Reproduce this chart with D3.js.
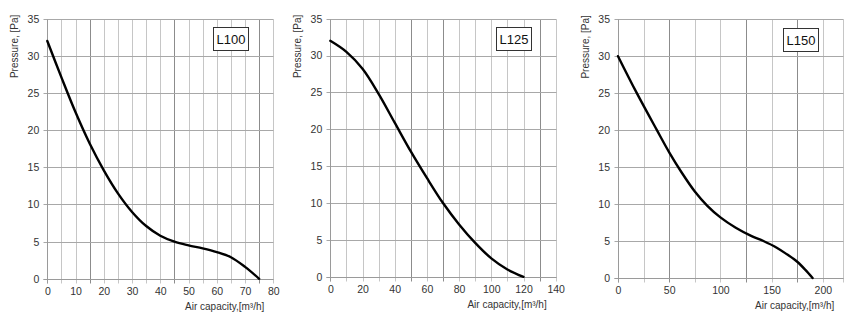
<!DOCTYPE html>
<html><head><meta charset="utf-8">
<script src="https://cdn.jsdelivr.net/npm/d3@7"></script>
<style>
html,body{margin:0;padding:0;background:#fff;}
svg{display:block;font-family:"Liberation Sans",Arial,sans-serif;}
</style></head>
<body>
<svg id="c" width="857" height="331"></svg>
<script>
// ---- data ----
const l100X = [0,5,10,15,20,25,30,35,40,45,50,55,60,65,70,75];
const l100Y = [32,27.1,22.4,18.2,14.6,11.5,9.0,7.1,5.8,5.0,4.5,4.1,3.6,2.9,1.6,0];
const l125X = [0,10,20,30,40,50,60,70,80,90,100,110,120];
const l125Y = [32,30.5,28.2,24.8,20.9,17.0,13.4,10.0,7.1,4.6,2.5,1.0,0];
const l150X = [0,18,38,50,62,75,87,100,115,130,142,155,165,175,183,190];
const l150Y = [30,25.1,20,17.0,14.3,11.7,9.8,8.2,6.8,5.7,5.0,4.1,3.2,2.2,1.1,0];

const yTicks = [0,5,10,15,20,25,30,35];
const l100XTicks = [0,10,20,30,40,50,60,70,80];
const l125XTicks = [0,20,40,60,80,100,120,140];
const l150XTicks = [0,50,100,150,200];
const l100Grid = d3.range(0,81,5);
const l125Grid = d3.range(0,141,10);
const l150Grid = [0,25,50,75,100,125,150,175,200,220];
const l100Dark = [15,45,75];
const l125Dark = [50,70,130];
const l150Dark = [50,125,175];

const labels = ["L100","L125","L150"];
const yTitle = "Pressure, [Pa]";
const xTitle = "Air capacity,[m³/h]";

const panels = [
  {name:labels[0], xs:l100X, ys:l100Y, xmax:80, ticks:l100XTicks, grid:l100Grid, dark:l100Dark, x0:47.3, x1:273.3, y0:18.7, y1:278.8},
  {name:labels[1], xs:l125X, ys:l125Y, xmax:140, ticks:l125XTicks, grid:l125Grid, dark:l125Dark, x0:330.3, x1:555.7, y0:18.7, y1:276.8},
  {name:labels[2], xs:l150X, ys:l150Y, xmax:220, ticks:l150XTicks, grid:l150Grid, dark:l150Dark, x0:618, x1:843.3, y0:19.2, y1:278.0}
];

const svg = d3.select("#c");
const px = v => Math.round(v) + 0.5;

panels.forEach(p => {
  const x = d3.scaleLinear().domain([0,p.xmax]).range([p.x0,p.x1]);
  const y = d3.scaleLinear().domain([0,35]).range([p.y1,p.y0]);
  const g = svg.append("g");
  const yb = px(y(0)), yt = px(y(35)), xl = px(x(0)), xr = px(x(p.xmax));

  // vertical grid
  g.selectAll(".vg").data(p.grid).join("line")
    .attr("x1", d=>px(x(d))).attr("x2", d=>px(x(d)))
    .attr("y1", yt).attr("y2", yb + 4)
    .attr("stroke", d => p.dark.includes(d) ? "#8c8c8c" : "#c6c6c6")
    .attr("stroke-width", 1);
  // horizontal grid
  g.selectAll(".hg").data(yTicks).join("line")
    .attr("x1", xl-4).attr("x2", xr)
    .attr("y1", d=>px(y(d))).attr("y2", d=>px(y(d)))
    .attr("stroke", "#a8a8a8")
    .attr("stroke-width", 1);
  // axis lines
  g.append("line").attr("x1",xl).attr("x2",xl).attr("y1",yt).attr("y2",yb+4)
    .attr("stroke","#9a9a9a").attr("stroke-width",1);
  g.append("line").attr("x1",xl-4).attr("x2",xr).attr("y1",yb).attr("y2",yb)
    .attr("stroke","#9a9a9a").attr("stroke-width",1);

  // tick labels via axes
  const ax = d3.axisBottom(x).tickValues(p.ticks).tickSize(0).tickPadding(9).tickFormat(d3.format("d"));
  const axg = g.append("g").attr("transform",`translate(0,${p.y1})`).call(ax);
  axg.select(".domain").remove();
  axg.selectAll("text").attr("font-size","10.5px").attr("fill","#333").attr("font-family","'Liberation Sans',Arial,sans-serif");

  const ay = d3.axisLeft(y).tickValues(yTicks).tickSize(0).tickPadding(8).tickFormat(d3.format("d"));
  const ayg = g.append("g").attr("transform",`translate(${p.x0},0)`).call(ay);
  ayg.select(".domain").remove();
  ayg.selectAll("text").attr("font-size","10.5px").attr("fill","#333").attr("font-family","'Liberation Sans',Arial,sans-serif");

  // titles
  g.append("text").attr("transform",`translate(${p.x0-29},${p.y0-4}) rotate(-90)`)
    .attr("text-anchor","end").attr("font-size","10px").attr("fill","#333").text(yTitle);
  g.append("text").attr("x",p.x1-9).attr("y",p.y1+31)
    .attr("text-anchor","end").attr("font-size","10px").attr("fill","#333").text(xTitle);

  // curve
  const pts = p.xs.map((v,i)=>[v,p.ys[i]]);
  const line = d3.line().x(d=>x(d[0])).y(d=>y(d[1])).curve(d3.curveCatmullRom.alpha(0.5));
  g.append("path").attr("d", line(pts)).attr("fill","none").attr("stroke","#000")
    .attr("stroke-width",2.4).attr("stroke-linejoin","round").attr("stroke-linecap","round");

  // legend box
  const bw = 35, bh = 23;
  const bx = Math.round(p.x1 - 25 - bw) + 0.5, by = Math.round(p.y0 + 8.5) + 0.5;
  g.append("rect").attr("x",bx).attr("y",by).attr("width",bw).attr("height",bh)
    .attr("fill","#fff").attr("stroke","#333").attr("stroke-width",1);
  g.append("text").attr("x",bx+bw/2).attr("y",by+bh/2).attr("dy","0.36em")
    .attr("text-anchor","middle").attr("font-size","13px").attr("fill","#111").text(p.name);
});
</script>
</body></html>
